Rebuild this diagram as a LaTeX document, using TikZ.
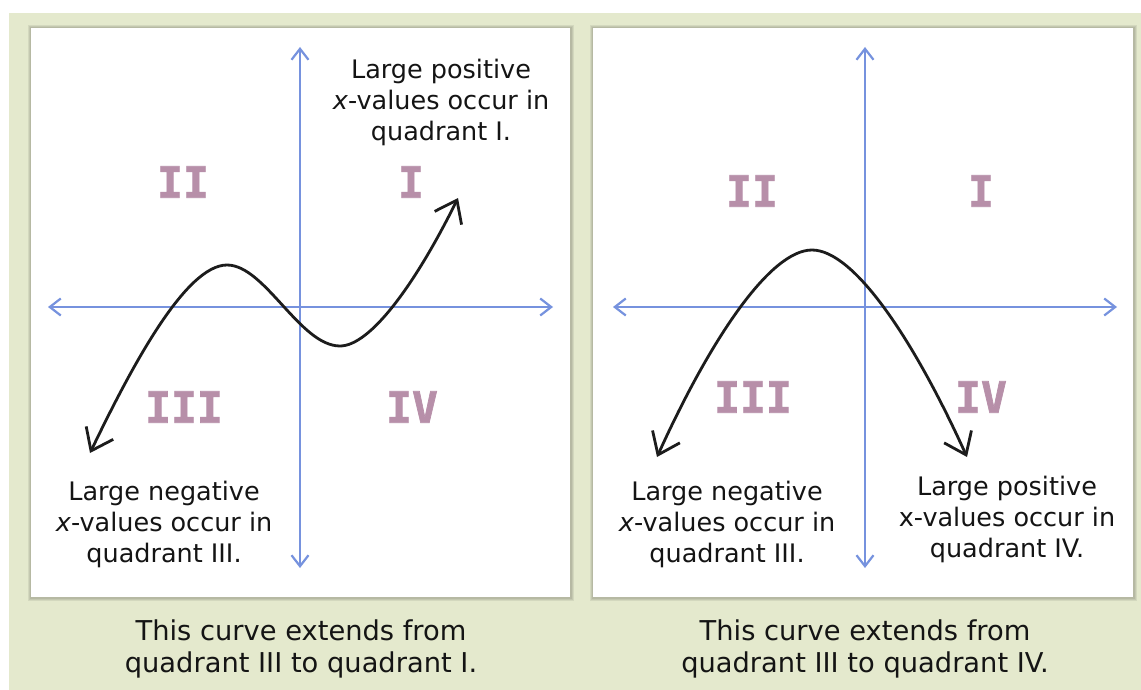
\documentclass[tikz,border=0pt]{standalone}
\usepackage{fontspec}
\setmainfont{DejaVu Sans}
\newfontfamily\numfont[FakeBold=1.6]{DejaVu Sans Mono}
\usetikzlibrary{arrows.meta}
\definecolor{bg}{RGB}{228,233,205}
\definecolor{axisblue}{RGB}{118,146,222}
\definecolor{quadc}{RGB}{183,143,169}
\definecolor{curvec}{RGB}{28,28,28}
\definecolor{textc}{RGB}{20,20,20}
\begin{document}
\begin{tikzpicture}[x=1pt,y=-1pt,
  axisline/.style={draw=axisblue, line width=2.2pt,
    {Straight Barb[length=11pt,width=17pt]}-{Straight Barb[length=11pt,width=17pt]}},
  curveline/.style={draw=curvec, line width=2.8pt, line cap=round,
    {Straight Barb[length=20pt,width=30pt]}-{Straight Barb[length=20pt,width=30pt]}},
  quad/.style={font=\numfont\bfseries\fontsize{43}{43}\selectfont, text=quadc, inner sep=0pt},
  note/.style={font=\fontsize{25.5}{31}\selectfont, text=textc, align=center, inner sep=0pt},
  caption/.style={font=\fontsize{27.3}{32}\selectfont, text=textc, align=center, inner sep=0pt},
  shadowbox/.style={fill=black, opacity=0.07}
]
\useasboundingbox (0,0) rectangle (1141,690);
\fill[white] (0,0) rectangle (1141,690);
\fill[bg] (9,13) rectangle (1141,690);

% panel shadows and panels
\foreach \xa/\xb in {31/570, 593/1133} {
  \fill[shadowbox] (\xa-3,25) rectangle (\xb+4,601);
  \fill[shadowbox] (\xa-2,26) rectangle (\xb+3,600);
  \fill[shadowbox] (\xa-1,27) rectangle (\xb+2,599);
  \fill[white] (\xa,28) rectangle (\xb,597);
}

% ---------- panel 1 ----------
\coordinate (a1t) at (300,47);
\coordinate (a1b) at (300,568);
\coordinate (a1l) at (48,307);
\coordinate (a1r) at (553,307);
\draw[axisline] (a1l) -- (a1r);
\draw[axisline] (a1b) -- (a1t);

\draw[curveline] (90,453) .. controls (130,370) and (185,265) .. (227,265)
  .. controls (265,265) and (300,346) .. (340,346)
  .. controls (370,346) and (415,285) .. (458,198);

\node[quad] (q1II) at (183,182) {II};
\node[quad] (q1I) at (411,182) {I};
\node[quad] (q1III) at (184,407) {III};
\node[quad] (q1IV) at (412,407) {IV};

\node[note] (n1a) at (441,102) {Large positive\\\textit{x}-values occur in\\quadrant I.};
\node[note] (n1b) at (164,524) {Large negative\\\textit{x}-values occur in\\quadrant III.};
\node[caption] (c1) at (301,649) {This curve extends from\\quadrant III to quadrant I.};

% ---------- panel 2 ----------
\coordinate (a2t) at (865,47);
\coordinate (a2b) at (865,568);
\coordinate (a2l) at (613,307);
\coordinate (a2r) at (1117,307);
\draw[axisline] (a2l) -- (a2r);
\draw[axisline] (a2b) -- (a2t);

\draw[curveline] (657,457) .. controls (710,340) and (770,250) .. (812,250)
  .. controls (854,250) and (914,340) .. (967,457);

\node[quad] (q2II) at (752,191) {II};
\node[quad] (q2I) at (981,191) {I};
\node[quad] (q2III) at (753,397) {III};
\node[quad] (q2IV) at (981,397) {IV};

\node[note] (n2a) at (727,524) {Large negative\\\textit{x}-values occur in\\quadrant III.};
\node[note] (n2b) at (1007,519) {Large positive\\x-values occur in\\quadrant IV.};
\node[caption] (c2) at (865,649) {This curve extends from\\quadrant III to quadrant IV.};
\end{tikzpicture}
\end{document}
